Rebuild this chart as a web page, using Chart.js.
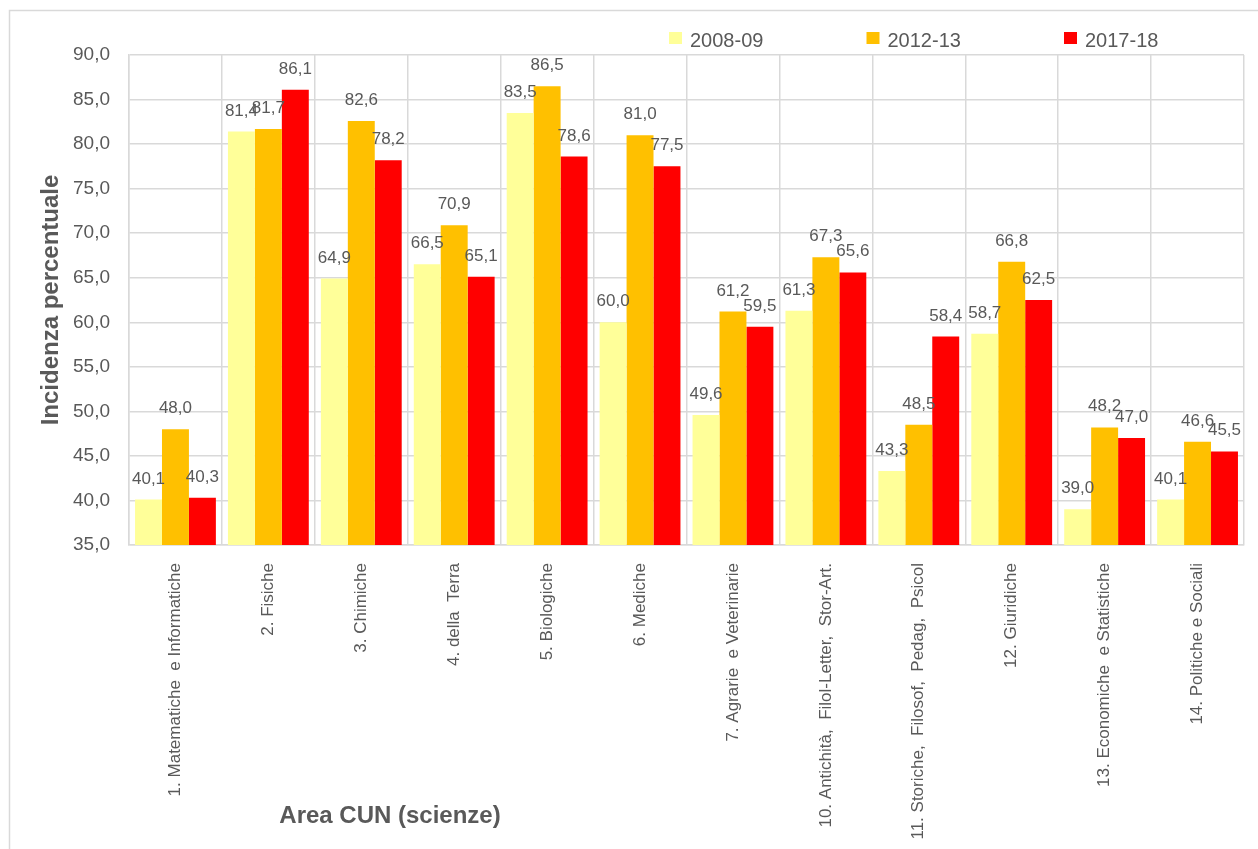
<!DOCTYPE html>
<html>
<head>
<meta charset="utf-8">
<script src="https://cdn.jsdelivr.net/npm/chart.js@4.4.1/dist/chart.umd.min.js"></script>
<style>
  html, body { margin: 0; padding: 0; background: #fff; }
  #box { width: 1258px; height: 849px; position: relative; }
</style>
</head>
<body>
<div id="box"><canvas id="grafico"></canvas></div>
<script>
const aree = [
    '1. Matematiche  e Informatiche',
    '2. Fisiche',
    '3. Chimiche',
    '4. della  Terra',
    '5. Biologiche',
    '6. Mediche',
    '7. Agrarie  e Veterinarie',
    '10. Antichità,  Filol-Letter,  Stor-Art.',
    '11. Storiche,  Filosof,  Pedag,  Psicol',
    '12. Giuridiche',
    '13. Economiche  e Statistiche',
    '14. Politiche e Sociali'
];
const anni = ['2008-09', '2012-13', '2017-18'];
const valori2008 = [40.1, 81.4, 64.9, 66.5, 83.5, 60.0, 49.6, 61.3, 43.3, 58.7, 39.0, 40.1];
const valori2012 = [48.0, 81.7, 82.6, 70.9, 86.5, 81.0, 61.2, 67.3, 48.5, 66.8, 48.2, 46.6];
const valori2017 = [40.3, 86.1, 78.2, 65.1, 78.6, 77.5, 59.5, 65.6, 58.4, 62.5, 47.0, 45.5];
const colori = ['#FFFF99', '#FFC000', '#FF0000'];

const grigio = '#595959';
const griglia = '#d9d9d9';
const font = '"Liberation Sans", Arial, sans-serif';

const virgola = v => v.toFixed(1).replace('.', ',');

// sfondo e cornice esterna
const cornice = {
    id: 'cornice',
    beforeDraw(chart) {
        const ctx = chart.ctx;
        ctx.save();
        ctx.fillStyle = '#fff';
        ctx.fillRect(0, 0, chart.width, chart.height);
        ctx.strokeStyle = griglia;
        ctx.lineWidth = 1.5;
        ctx.strokeRect(9.5, 10.5, chart.width + 20, chart.height + 20);
        ctx.restore();
    }
};

// etichette sopra le barre
const etichette = {
    id: 'etichette',
    afterDatasetsDraw(chart) {
        const ctx = chart.ctx;
        ctx.save();
        ctx.font = '17px ' + font;
        ctx.fillStyle = grigio;
        ctx.textAlign = 'center';
        ctx.textBaseline = 'alphabetic';
        chart.data.datasets.forEach((ds, i) => {
            chart.getDatasetMeta(i).data.forEach((bar, j) => {
                ctx.fillText(virgola(ds.data[j]), bar.x, bar.y - 16);
            });
        });
        ctx.restore();
    }
};

// legenda in alto a destra + titolo asse x
const legenda = {
    id: 'legenda',
    afterDraw(chart) {
        const ctx = chart.ctx;
        ctx.save();
        ctx.font = '20px ' + font;
        ctx.textBaseline = 'alphabetic';
        ctx.textAlign = 'left';
        chart.data.datasets.forEach((ds, i) => {
            const x = 669 + i * 197.5;
            ctx.fillStyle = ds.backgroundColor;
            ctx.fillRect(x, 32, 13, 12);
            ctx.fillStyle = grigio;
            ctx.fillText(ds.label, x + 21, 46.5);
        });
        ctx.font = 'bold 24px ' + font;
        ctx.textAlign = 'center';
        ctx.textBaseline = 'middle';
        ctx.fillText('Area CUN (scienze)', 390, 816);
        ctx.restore();
    }
};

new Chart(document.querySelector('#grafico'), {
    type: 'bar',
    data: {
        labels: aree,
        datasets: [
            { label: anni[0], data: valori2008, backgroundColor: colori[0] },
            { label: anni[1], data: valori2012, backgroundColor: colori[1] },
            { label: anni[2], data: valori2017, backgroundColor: colori[2] }
        ]
    },
    options: {
        responsive: true,
        maintainAspectRatio: false,
        animation: false,
        datasets: {
            bar: { categoryPercentage: 0.87, barPercentage: 1.0 }
        },
        layout: {
            padding: { top: 55, right: 14, bottom: 0, left: 0 }
        },
        scales: {
            x: {
                grid: { color: griglia, lineWidth: 1.5, drawTicks: false, offset: true },
                border: { color: griglia, width: 1.5 },
                ticks: {
                    color: grigio,
                    font: { family: font, size: 17 },
                    minRotation: 90,
                    maxRotation: 90,
                    padding: 18,
                    autoSkip: false
                },
                afterFit(scale) { scale.height = 304; }
            },
            y: {
                min: 35,
                max: 90,
                grid: { color: griglia, lineWidth: 1.5, drawTicks: false },
                border: { color: griglia, width: 1.5 },
                ticks: {
                    stepSize: 5,
                    color: grigio,
                    font: { family: font, size: 19 },
                    padding: 19,
                    callback: v => virgola(v)
                },
                title: {
                    display: true,
                    text: 'Incidenza percentuale',
                    color: grigio,
                    font: { family: font, size: 24, weight: 'bold' },
                    padding: { top: 37, bottom: 0 }
                },
                afterFit(scale) { scale.width = 129; }
            }
        },
        plugins: {
            legend: { display: false },
            tooltip: { enabled: false }
        }
    },
    plugins: [cornice, etichette, legenda]
});
</script>
</body>
</html>
